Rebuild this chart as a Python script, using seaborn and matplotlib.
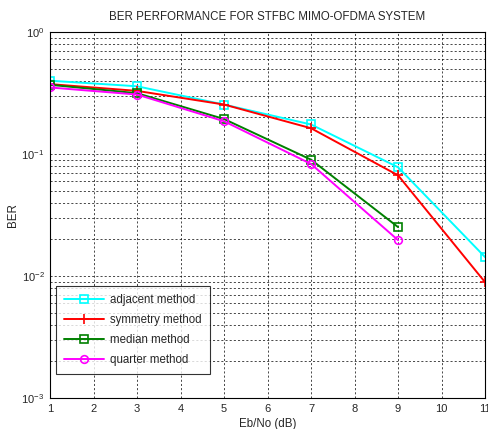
import numpy as np
import pandas as pd
import matplotlib
matplotlib.use("Agg")
import matplotlib.pyplot as plt
import seaborn as sns
from matplotlib.ticker import LogLocator, NullFormatter

snr = [1, 3, 5, 7, 9, 11]
adjacent = [0.40, 0.36, 0.255, 0.175, 0.078, 0.0143]
symmetry = [0.375, 0.33, 0.255, 0.163, 0.067, 0.0089]
median = [0.37, 0.316, 0.194, 0.090, 0.0252]
quarter = [0.352, 0.308, 0.186, 0.083, 0.0197]

series = [
    ("adjacent method", adjacent, "cyan", "s"),
    ("symmetry method", symmetry, "red", "+"),
    ("median method", median, "green", "s"),
    ("quarter method", quarter, "magenta", "o"),
]

sns.set_style("white")
plt.rcParams["font.family"] = ["Liberation Sans", "DejaVu Sans"]

fig = plt.figure(figsize=(4.88, 4.29), dpi=100)
ax = fig.add_axes([0.1025, 0.0723, 0.8915, 0.8527])

for name, vals, col, mk in series:
    df = pd.DataFrame({"snr": snr[:len(vals)], "ber": vals})
    sns.lineplot(data=df, x="snr", y="ber", ax=ax, color=col, marker=mk,
                 markersize=5.5 if mk != "+" else 7, mfc="none", mec=col,
                 mew=1.2, lw=1.4, label=name)

ax.set_yscale("log")
ax.set_ylim(1e-3, 1)
ax.set_xlim(1, 11)
ax.set_xticks(range(1, 12))
ax.yaxis.set_major_locator(LogLocator(base=10, numticks=10))
ax.yaxis.set_minor_locator(LogLocator(base=10, subs=np.arange(2, 10), numticks=20))
ax.yaxis.set_minor_formatter(NullFormatter())
ax.grid(True, which="both", axis="y", color="black", ls=(0, (3, 3)), lw=0.5)
ax.grid(True, which="major", axis="x", color="black", ls=(0, (3, 3)), lw=0.5)
for s in ax.spines.values():
    s.set_color("black")
    s.set_linewidth(0.8)
ax.tick_params(labelsize=8, direction="in", length=3, which="both", pad=4)

ax.set_title("BER PERFORMANCE FOR STFBC MIMO-OFDMA SYSTEM", fontsize=8.3, pad=9)
ax.set_xlabel("Eb/No (dB)", fontsize=8.3, labelpad=3)
ax.set_ylabel("BER", fontsize=8.3, labelpad=2)

leg = ax.legend(loc="lower left", bbox_to_anchor=(0.0, 0.05), fontsize=8.3,
                frameon=True, fancybox=False, edgecolor="black",
                handlelength=3.5, handletextpad=0.5, borderpad=0.7,
                labelspacing=0.7)
leg.get_frame().set_linewidth(0.8)

fig.savefig("out.png", dpi=100)
